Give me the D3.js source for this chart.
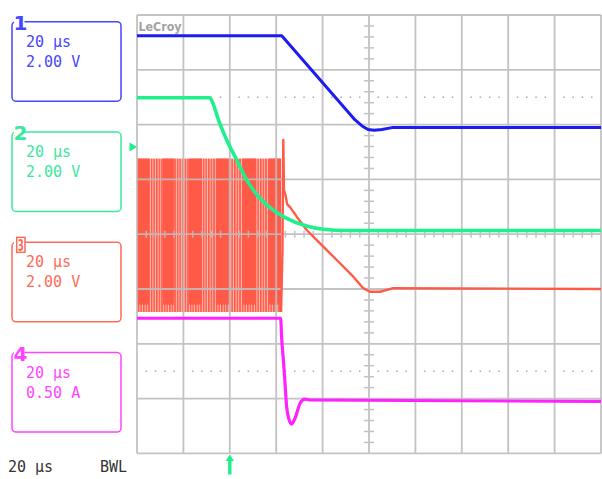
<!DOCTYPE html>
<html><head><meta charset="utf-8">
<script src="https://cdn.jsdelivr.net/npm/d3@7"></script>
<style>html,body{margin:0;padding:0;background:#fff}svg{display:block}</style>
</head><body>
<svg id="c" width="602" height="479"></svg>
<script>
// ---- grid / axis definitions (time in µs, trigger at 0) ----
const gridTimes = [-40, -20, 0, 20, 40, 60, 80, 100, 120, 140, 160];
const gridDivs = [-4, -3, -2, -1, 0, 1, 2, 3, 4];
const dottedDivs = [2.5, -2.5];

// ---- channel descriptors ----
const channelIds = ["1", "2", "3", "4"];
const channelTimebase = ["20 μs", "20 μs", "20 μs", "20 μs"];
const channelSens = ["2.00 V", "2.00 V", "2.00 V", "0.50 A"];
const channelPerDiv = [2, 2, 2, 0.5];
const traceColors = ["#1c1cf2", "#1ff08e", "#ff5a48", "#ff22ff"];
const labelColors = ["#4646ff", "#3ce89c", "#ff6a5a", "#ff44ff"];

// ---- channel 1 (V) ----
const ch1Time = [-40, 22.4, 54.0, 57.0, 59.6, 62.2, 65.6, 69.9, 160];
const ch1Volt = [7.24, 7.24, 4.17, 3.95, 3.82, 3.79, 3.82, 3.89, 3.89];

// ---- channel 2 (V) ----
const ch2Time = [-40, -8.97, -4.22, -1.34, 2.97, 7.28, 13.0, 18.75, 24.5, 33.1, 40.3, 50.4, 160];
const ch2Volt = [4.98, 4.98, 4.02, 3.44, 2.71, 1.98, 1.31, 0.88, 0.58, 0.30, 0.18, 0.135, 0.135];

// ---- channel 3 (V): switching burst, then decay ----
const switchStart = -40, switchEnd = 22.1;
const burstStart = [-40, -28.8, -17.6, -6.0, 5.7, 16.9];
const burstEnd = [-34.8, -24.1, -12.0, -0.4, 11.3, 22.1];
const redHigh = 2.76, redLow = -2.57, redFringe = -2.84;
const ch3Time = [22.1, 22.7, 23.06, 23.36, 24.0, 24.7, 25.95, 28.84, 33.15, 38.88, 46.08, 53.23, 57.54, 60.43, 64.74, 70.47, 160];
const ch3Volt = [-2.84, -0.58, 3.44, 1.61, 1.43, 1.10, 0.99, 0.64, 0.153, -0.332, -0.942, -1.55, -1.97, -2.10, -2.10, -1.97, -2.0];

// ---- channel 4 (A) ----
const ch4Time = [-40, 21.9, 22.4, 23.1, 23.8, 24.5, 25.6, 26.7, 28.1, 30.3, 32.4, 34.6, 160];
const ch4Amp = [-0.767, -0.767, -0.965, -1.148, -1.36, -1.574, -1.695, -1.732, -1.68, -1.543, -1.504, -1.513, -1.526];

const triggerTime = 0;
const triggerLevelDiv = 1.59;

// ---- layout ----
const gx0 = 137, gx1 = 601, gy0 = 15, gy1 = 453.4;
const svg = d3.select("#c");
const x = d3.scaleLinear().domain([gridTimes[0], gridTimes[gridTimes.length - 1]]).range([gx0, gx1]);
const div = d3.scaleLinear().domain([-4, 4]).range([gy1, gy0]);
const yCh = s => d3.scaleLinear().domain([-4 * s, 4 * s]).range([gy1, gy0]);
const gridColor = "#bdbdbd";
const mono = "'DejaVu Sans Mono', monospace";

// ---- channel 3 switching block (beneath grid) ----
const y3 = yCh(channelPerDiv[2]);
const defs = svg.append("defs");
const pat = defs.append("pattern").attr("id", "sw").attr("patternUnits", "userSpaceOnUse")
  .attr("width", 2.6).attr("height", 10);
pat.append("rect").attr("width", 2.6).attr("height", 10).attr("fill", "#ffc0b6");
pat.append("rect").attr("width", 1.6).attr("height", 10).attr("fill", traceColors[2]);
svg.append("rect")
  .attr("x", x(switchStart)).attr("width", x(switchEnd) - x(switchStart))
  .attr("y", y3(redHigh)).attr("height", y3(redFringe) - y3(redHigh))
  .attr("fill", "url(#sw)");
svg.selectAll("rect.burst").data(burstStart).join("rect").attr("class", "burst")
  .attr("x", d => x(d)).attr("width", (d, i) => x(burstEnd[i]) - x(d))
  .attr("y", y3(redHigh)).attr("height", y3(redLow) - y3(redHigh))
  .attr("fill", traceColors[2]);

// ---- grid ----
const g = svg.append("g").attr("stroke", gridColor).attr("stroke-width", 1.8).attr("opacity", 0.9);
gridTimes.forEach(t => g.append("line").attr("x1", x(t)).attr("x2", x(t)).attr("y1", gy0).attr("y2", gy1));
gridDivs.forEach(d => g.append("line").attr("x1", gx0).attr("x2", gx1).attr("y1", div(d)).attr("y2", div(d)));

// minor ticks on centre lines
const tStep = (gridTimes[1] - gridTimes[0]) / 5;
const centreT = (gridTimes[0] + gridTimes[gridTimes.length - 1]) / 2;
d3.range(gridTimes[0], gridTimes[gridTimes.length - 1] + 0.001, tStep).forEach((t, i) => {
  if (i % 5 === 0) return;
  g.append("line").attr("x1", x(t)).attr("x2", x(t)).attr("y1", div(0) - 3.5).attr("y2", div(0) + 3.5).attr("stroke-width", 1.5);
});
d3.range(-4, 4.001, 0.2).forEach((d, i) => {
  if (i % 5 === 0) return;
  g.append("line").attr("x1", x(centreT) - 5).attr("x2", x(centreT) + 5).attr("y1", div(d)).attr("y2", div(d)).attr("stroke-width", 1.5);
});
// dotted reference levels
dottedDivs.forEach(dv => {
  d3.range(gridTimes[0], gridTimes[gridTimes.length - 1] + 0.001, tStep).forEach((t, i) => {
    if (i % 5 === 0) return;
    svg.append("rect").attr("x", x(t) - 0.75).attr("y", div(dv) - 0.75).attr("width", 1.5).attr("height", 1.5).attr("fill", "#aaaaaa");
  });
});

// LeCroy logo
svg.append("text").attr("x", gx0 + 1.5).attr("y", 31).text("LeCroy")
  .attr("font-family", "'DejaVu Sans', sans-serif").attr("font-weight", "bold").attr("font-size", 13)
  .attr("textLength", 43).attr("lengthAdjust", "spacingAndGlyphs").attr("fill", "#a3a3a3");

// ---- traces ----
function trace(times, vals, perDiv, color, w, curve) {
  const y = yCh(perDiv);
  const line = d3.line().x(d => x(d[0])).y(d => y(d[1])).curve(curve);
  svg.append("path").attr("d", line(times.map((t, i) => [t, vals[i]])))
    .attr("fill", "none").attr("stroke", color).attr("stroke-width", w).attr("stroke-linejoin", "round");
}
trace(ch3Time, ch3Volt, channelPerDiv[2], traceColors[2], 2.4, d3.curveLinear);
trace(ch4Time, ch4Amp, channelPerDiv[3], traceColors[3], 3.2, d3.curveMonotoneX);
trace(ch2Time, ch2Volt, channelPerDiv[1], traceColors[1], 3.6, d3.curveMonotoneX);
trace(ch1Time, ch1Volt, channelPerDiv[0], traceColors[0], 3, d3.curveLinear);

// ---- trigger markers ----
const ty = div(triggerLevelDiv);
svg.append("path").attr("d", `M${gx0 - 7.5},${ty - 4.5}L${gx0},${ty}L${gx0 - 7.5},${ty + 4.5}Z`).attr("fill", traceColors[1]);
const tx = x(triggerTime);
svg.append("path").attr("d", `M${tx},${gy1 + 1}L${tx + 4.2},${gy1 + 7.5}L${tx + 1.7},${gy1 + 7.5}L${tx + 1.7},${gy1 + 21}L${tx - 1.7},${gy1 + 21}L${tx - 1.7},${gy1 + 7.5}L${tx - 4.2},${gy1 + 7.5}Z`)
  .attr("fill", traceColors[1]);

// ---- channel label boxes ----
const boxX = 12, boxW = 109, boxH = 79.5, boxTop0 = 21.7, boxStep = 110.3;
channelIds.forEach((id, i) => {
  const top = boxTop0 + i * boxStep;
  const c = labelColors[i];
  svg.append("rect").attr("x", boxX).attr("y", top).attr("width", boxW).attr("height", boxH)
    .attr("rx", 4).attr("fill", "none").attr("stroke", c).attr("stroke-width", 1.5);
  svg.append("rect").attr("x", 14).attr("y", top - 3).attr("width", 10.5).attr("height", 7).attr("fill", "#fff");
  if (i === 2) {
    svg.append("rect").attr("x", 16.7).attr("y", top - 5).attr("width", 8.3).attr("height", 15)
      .attr("fill", "#fff").attr("stroke", c).attr("stroke-width", 1.5);
    svg.append("text").attr("x", 20.8).attr("y", top + 8.3).attr("text-anchor", "middle").text(id)
      .attr("font-family", "'DejaVu Sans', sans-serif").attr("font-weight", "bold").attr("font-size", 15)
      .attr("textLength", 6).attr("lengthAdjust", "spacingAndGlyphs").attr("fill", c);
  } else {
    svg.append("text").attr("x", 20.5).attr("y", top + 8.4).attr("text-anchor", "middle").text(id)
      .attr("font-family", "'DejaVu Sans', sans-serif").attr("font-weight", "bold").attr("font-size", 20).attr("fill", c);
  }
  [channelTimebase[i], channelSens[i]].forEach((s, k) => {
    svg.append("text").attr("x", 26).attr("y", top + 25 + k * 20).text(s)
      .attr("font-family", mono).attr("font-size", 15).attr("fill", c);
  });
});

// ---- footer ----
svg.append("text").attr("x", 8).attr("y", 471.7).text("20 μs").attr("font-family", mono).attr("font-size", 15).attr("fill", "#333");
svg.append("text").attr("x", 100).attr("y", 471.7).text("BWL").attr("font-family", mono).attr("font-size", 15).attr("fill", "#333");
</script>
</body></html>
